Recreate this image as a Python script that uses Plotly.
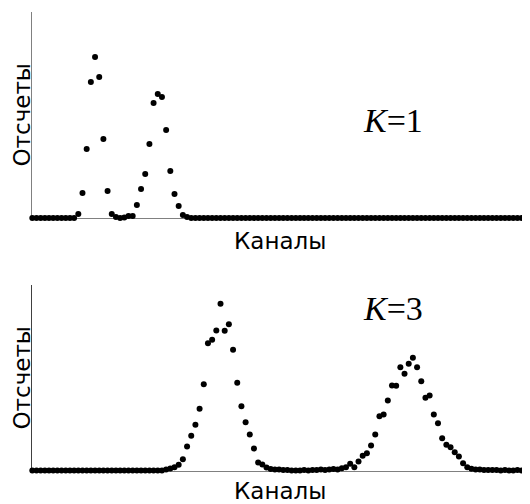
import plotly.graph_objects as go

channels = list(range(120))

counts_k1 = [
    0, 0, 0, 0, 0, 0, 0, 0, 0, 0,
    0, 4, 25, 69, 136, 161, 141, 79, 27, 4,
    1, 0, 0.5, 2, 2, 13, 29, 44, 74, 115,
    124, 121, 88, 47, 24, 12, 3, 1, 0, 0,
    0, 0, 0, 0, 0, 0, 0, 0, 0, 0,
    0, 0, 0, 0, 0, 0, 0, 0, 0, 0,
    0, 0, 0, 0, 0, 0, 0, 0, 0, 0,
    0, 0, 0, 0, 0, 0, 0, 0, 0, 0,
    0, 0, 0, 0, 0, 0, 0, 0, 0, 0,
    0, 0, 0, 0, 0, 0, 0, 0, 0, 0,
    0, 0, 0, 0, 0, 0, 0, 0, 0, 0,
    0, 0, 0, 0, 0, 0, 0, 0, 0, 0,
]

counts_k3 = [
    0, 0, 0, 0, 0, 0, 0, 0, 0, 0,
    0, 0, 0, 0, 0, 0, 0, 0, 0, 0,
    0, 0, 0, 0, 0, 0, 0, 0, 0, 0,
    0, 0, 1, 2, 3.3, 5.7, 11.3, 24, 34.7, 45.7,
    61.7, 86.3, 127.3, 130.7, 140, 166.7, 139.7, 146.3, 120.7, 87.7,
    64.3, 48.3, 36, 22, 8, 6, 3, 1.5, 1, 1,
    0.5, 0.5, 0, 0, 0, 0.5, 0, 0.5, 0.5, 1,
    0.5, 1, 1.5, 1, 2.3, 3.3, 6.7, 3.3, 9, 14.7,
    17.3, 25, 36, 54.3, 56, 70, 85, 84.7, 103.3, 96.7,
    106.7, 112.7, 103.3, 89.3, 72.7, 75, 56, 47.3, 32.3, 25.7,
    23.3, 18.3, 14, 7.3, 3.3, 1.7, 1, 1, 0.5, 0.5,
    0.5, 0.5, 0, 0.5, 0, 0, 0.5, 0, 0, 0,
]

x_title = "Каналы"
y_title = "Отсчеты"
label_k1 = "<i>K</i>=1"
label_k3 = "<i>K</i>=3"

# the page places the figure 8 px from the top-left corner
OFF = 8
W, H = 530 - OFF, 504 - OFF


def px(xr):
    return (xr - OFF) / W


def py(yr):
    return 1 - (yr - OFF) / H


fig = go.Figure()
fig.add_trace(go.Scatter(x=channels, y=counts_k1, mode="markers",
                         marker=dict(size=6, color="black"),
                         xaxis="x", yaxis="y", cliponaxis=False, showlegend=False))
fig.add_trace(go.Scatter(x=channels, y=counts_k3, mode="markers",
                         marker=dict(size=6, color="black"),
                         xaxis="x2", yaxis="y2", cliponaxis=False, showlegend=False))

axis_common = dict(showgrid=False, zeroline=False, showticklabels=False,
                   ticks="", showline=True, linewidth=1, layer="below traces")

fig.update_layout(
    width=W, height=H,
    margin=dict(l=0, r=0, t=0, b=0),
    paper_bgcolor="white", plot_bgcolor="white",
    xaxis=dict(domain=[px(32.3), 1], range=[0, 119], anchor="y", linecolor="#808080", **axis_common),
    yaxis=dict(domain=[py(218), py(12)], range=[0, 206], anchor="x", linecolor="#808080", **axis_common),
    xaxis2=dict(domain=[px(32.3), 1], range=[0, 119], anchor="y2", linecolor="#808080", **axis_common),
    yaxis2=dict(domain=[py(470.5), py(285)], range=[0, 185.5], anchor="x2", linecolor="#404040", **axis_common),
)

sans = dict(family="DejaVu Sans", size=23, color="black")
serif = dict(family="Liberation Serif", size=34, color="black")

fig.add_annotation(text=y_title, textangle=-90, xref="paper", yref="paper",
                   x=px(21.5), y=py(115), showarrow=False, font=sans,
                   xanchor="center", yanchor="middle", borderpad=0)
fig.add_annotation(text=y_title, textangle=-90, xref="paper", yref="paper",
                   x=px(21.5), y=py(378), showarrow=False, font=sans,
                   xanchor="center", yanchor="middle", borderpad=0)
fig.add_annotation(text=x_title, xref="paper", yref="paper",
                   x=px(280), y=py(241), showarrow=False, font=sans,
                   xanchor="center", yanchor="middle", borderpad=0)
fig.add_annotation(text=x_title, xref="paper", yref="paper",
                   x=px(280), y=py(491), showarrow=False, font=sans,
                   xanchor="center", yanchor="middle", borderpad=0)
fig.add_annotation(text=label_k1, xref="paper", yref="paper",
                   x=px(393), y=py(120), showarrow=False, font=serif,
                   xanchor="center", yanchor="middle")
fig.add_annotation(text=label_k3, xref="paper", yref="paper",
                   x=px(393), y=py(308), showarrow=False, font=serif,
                   xanchor="center", yanchor="middle")

fig.write_html("out.html")
